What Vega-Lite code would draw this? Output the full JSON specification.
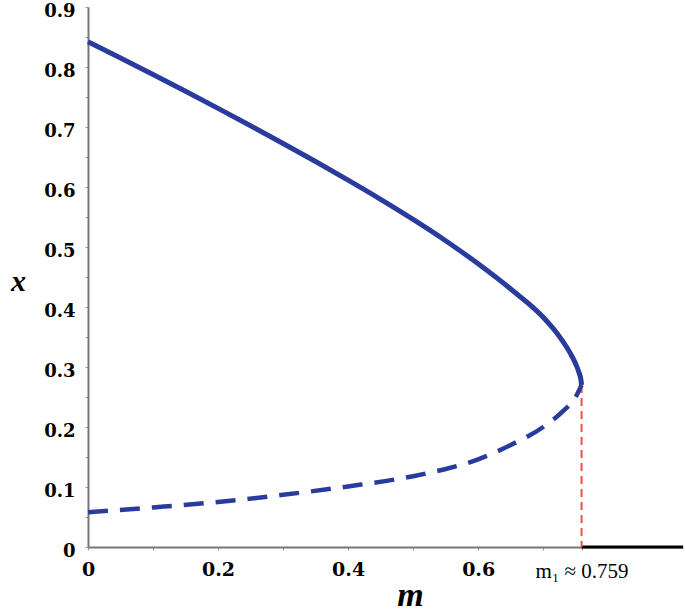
{
  "$schema": "https://vega.github.io/schema/vega-lite/v6.json",
  "width": 595,
  "height": 540,
  "autosize": "none",
  "padding": {"left": 88, "top": 7, "right": 2, "bottom": 66},
  "background": "white",
  "config": {"view": {"stroke": null}},
  "data": {"values": [
    {"branch": "upper", "m": 0, "x": 0.842},
    {"branch": "upper", "m": 0.05, "x": 0.815},
    {"branch": "upper", "m": 0.1, "x": 0.7875},
    {"branch": "upper", "m": 0.15, "x": 0.7595},
    {"branch": "upper", "m": 0.2, "x": 0.731},
    {"branch": "upper", "m": 0.25, "x": 0.702},
    {"branch": "upper", "m": 0.3, "x": 0.6725},
    {"branch": "upper", "m": 0.35, "x": 0.6425},
    {"branch": "upper", "m": 0.4, "x": 0.6115},
    {"branch": "upper", "m": 0.45, "x": 0.5795},
    {"branch": "upper", "m": 0.5, "x": 0.546},
    {"branch": "upper", "m": 0.55, "x": 0.5105},
    {"branch": "upper", "m": 0.6, "x": 0.472},
    {"branch": "upper", "m": 0.65, "x": 0.43},
    {"branch": "upper", "m": 0.7, "x": 0.383},
    {"branch": "upper", "m": 0.72, "x": 0.358},
    {"branch": "upper", "m": 0.74, "x": 0.326},
    {"branch": "upper", "m": 0.75, "x": 0.305},
    {"branch": "upper", "m": 0.755, "x": 0.291},
    {"branch": "upper", "m": 0.758, "x": 0.279},
    {"branch": "upper", "m": 0.759, "x": 0.27},
    {"branch": "lower", "m": 0, "x": 0.058},
    {"branch": "lower", "m": 0.1, "x": 0.066},
    {"branch": "lower", "m": 0.2, "x": 0.075},
    {"branch": "lower", "m": 0.3, "x": 0.087},
    {"branch": "lower", "m": 0.4, "x": 0.101},
    {"branch": "lower", "m": 0.5, "x": 0.118},
    {"branch": "lower", "m": 0.55, "x": 0.13},
    {"branch": "lower", "m": 0.6, "x": 0.146},
    {"branch": "lower", "m": 0.65, "x": 0.17},
    {"branch": "lower", "m": 0.7, "x": 0.2},
    {"branch": "lower", "m": 0.73, "x": 0.226},
    {"branch": "lower", "m": 0.75, "x": 0.25},
    {"branch": "lower", "m": 0.759, "x": 0.27},
    {"branch": "zero", "m": 0.759, "x": 0},
    {"branch": "zero", "m": 0.915, "x": 0},
    {"branch": "fold", "m": 0.759, "x": 0.27}
  ]},
  "encoding": {
    "x": {
      "field": "m", "type": "quantitative",
      "scale": {"domain": [0, 0.915], "nice": false, "zero": false},
      "axis": {
        "title": "m",
        "values": [0, 0.1, 0.2, 0.3, 0.4, 0.5, 0.6, 0.7, 0.759],
        "labelExpr": "datum.value == 0.759 ? 'm\u2081 \u2248 0.759' : (round(datum.value*10) % 2 == 0 ? format(datum.value, '.1~f') : '')",
        "labelFont": {"condition": {"test": "datum.value == 0.759", "value": "Liberation Serif"}, "value": "DejaVu Serif"},
        "labelFontSize": {"condition": {"test": "datum.value == 0.759", "value": 21}, "value": 19},
        "labelFontWeight": {"condition": {"test": "datum.value == 0.759", "value": "normal"}, "value": "bold"},
        "labelColor": "black",
        "labelPadding": 10,
        "labelFlush": false,
        "labelOverlap": false,
        "domainColor": "#777777",
        "domainWidth": 2,
        "tickColor": "#999999",
        "tickSize": 3,
        "grid": false,
        "titleFont": "Liberation Serif",
        "titleFontSize": 34,
        "titleFontStyle": "italic",
        "titleFontWeight": "bold",
        "titleColor": "black",
        "titleAlign": "center",
        "titleBaseline": "alphabetic",
        "titleX": 322,
        "titleY": 58
      }
    },
    "y": {
      "field": "x", "type": "quantitative",
      "scale": {"domain": [0, 0.9], "nice": false},
      "axis": {
        "title": "x",
        "values": [0, 0.05, 0.1, 0.15, 0.2, 0.25, 0.3, 0.35, 0.4, 0.45, 0.5, 0.55, 0.6, 0.65, 0.7, 0.75, 0.8, 0.85, 0.9],
        "labelExpr": "round(datum.value*100) % 10 == 0 ? format(datum.value, '.1~f') : ''",
        "labelFont": "DejaVu Serif",
        "labelFontSize": 18,
        "labelFontWeight": "bold",
        "labelColor": "black",
        "labelPadding": 10,
        "labelOffset": 4,
        "labelFlush": false,
        "labelOverlap": false,
        "domainColor": "#777777",
        "domainWidth": 2,
        "tickColor": "#999999",
        "tickSize": 3,
        "grid": false,
        "titleFont": "Liberation Serif",
        "titleFontSize": 30,
        "titleFontStyle": "italic",
        "titleFontWeight": "bold",
        "titleColor": "black",
        "titleAngle": 0,
        "titleAlign": "center",
        "titleBaseline": "middle",
        "titleX": -70,
        "titleY": 274
      }
    }
  },
  "layer": [
    {
      "transform": [{"filter": "datum.branch == 'zero'"}],
      "mark": {"type": "line", "color": "black", "strokeWidth": 3},
      "encoding": {"order": {"field": "m"}}
    },
    {
      "transform": [{"filter": "datum.branch == 'fold'"}],
      "mark": {"type": "rule", "color": "#e8534a", "strokeWidth": 2, "strokeDash": [8, 5]},
      "encoding": {"y2": {"datum": 0}}
    },
    {
      "transform": [{"filter": "datum.branch == 'lower'"}],
      "mark": {"type": "line", "color": "#2a3b9e", "strokeWidth": 4.5, "strokeDash": [20, 12], "interpolate": "monotone"},
      "encoding": {"order": {"field": "m"}}
    },
    {
      "transform": [{"filter": "datum.branch == 'upper'"}],
      "mark": {"type": "line", "color": "#2a3b9e", "strokeWidth": 5, "interpolate": "monotone"},
      "encoding": {"order": {"field": "m"}}
    }
  ]
}
